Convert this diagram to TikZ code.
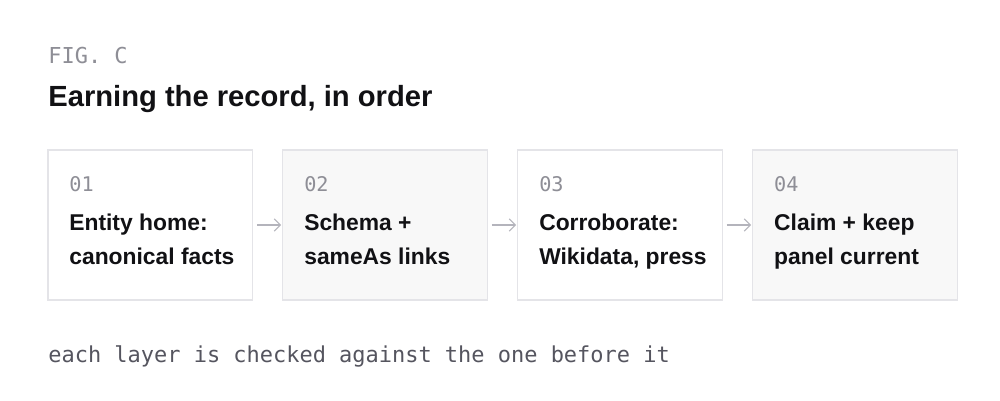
\documentclass[tikz,border=0pt]{standalone}
\usepackage{fontspec}
\setmainfont{Liberation Sans}
\setmonofont{DejaVu Sans Mono}
\usetikzlibrary{arrows.meta,positioning,calc}
\definecolor{recInk}{HTML}{111114}
\definecolor{recGray}{HTML}{8E8E96}
\definecolor{recNote}{HTML}{55555F}
\definecolor{recEdge}{HTML}{E4E4E8}
\definecolor{recFill}{HTML}{F8F8F8}
\definecolor{recArrow}{HTML}{B4B4BC}

\begin{document}
\begin{tikzpicture}[
x=0.02cm, y=-0.02cm,
node distance=0.6cm,
box/.style={draw=recEdge, line width=0.6pt, fill=white, minimum width=4.1cm, minimum height=3cm, inner sep=0pt, outer sep=0pt},
boxG/.style={box, fill=recFill},
num/.style={anchor=base west, inner sep=0pt, text=recGray, font=\ttfamily\fontsize{11.5}{14}\selectfont},
txt/.style={anchor=base west, inner sep=0pt, align=left, text=recInk, font=\bfseries\fontsize{13}{19.2}\selectfont},
mono/.style={anchor=base west, inner sep=0pt, font=\ttfamily\fontsize{12.5}{15}\selectfont},
arr/.style={-{Straight Barb[length=3.5pt,width=7pt]}, recArrow, line width=0.6pt, shorten >=1pt, shorten <=2.3pt}
]
\useasboundingbox[fill=white] (0,0) rectangle (1000,400);

% header
\node[mono, text=recGray] (fig) at (48,63) {FIG. C};
\node[anchor=base west, inner sep=0pt, text=recInk, font=\bfseries\fontsize{16.6}{20}\selectfont] (title) at (48,106) {Earning the record, in order};

% the four layers
\node[box, anchor=north west] (b1) at (48,150) {};
\node[boxG, right=of b1] (b2) {};
\node[box, right=of b2] (b3) {};
\node[boxG, right=of b3] (b4) {};
\draw[arr] (b1) -- (b2); \draw[arr] (b2) -- (b3); \draw[arr] (b3) -- (b4);

% base of a two-line node is its last line
\node[num] (n1) at ($(b1.north west)+(21,41)$) {01};
\node[txt] (t1) at ($(b1.north west)+(21,114)$) {Entity home:\\canonical facts};
\node[num] (n2) at ($(b2.north west)+(21,41)$) {02};
\node[txt] (t2) at ($(b2.north west)+(21,114)$) {Schema +\\sameAs links};
\node[num] (n3) at ($(b3.north west)+(21,41)$) {03};
\node[txt] (t3) at ($(b3.north west)+(21,114)$) {Corroborate:\\Wikidata, press};
\node[num] (n4) at ($(b4.north west)+(21,41)$) {04};
\node[txt] (t4) at ($(b4.north west)+(21,114)$) {Claim + keep\\panel current};

% footnote
\node[mono, text=recNote] (note) at (48,362) {each layer is checked against the one before it};

\end{tikzpicture}
\end{document}
